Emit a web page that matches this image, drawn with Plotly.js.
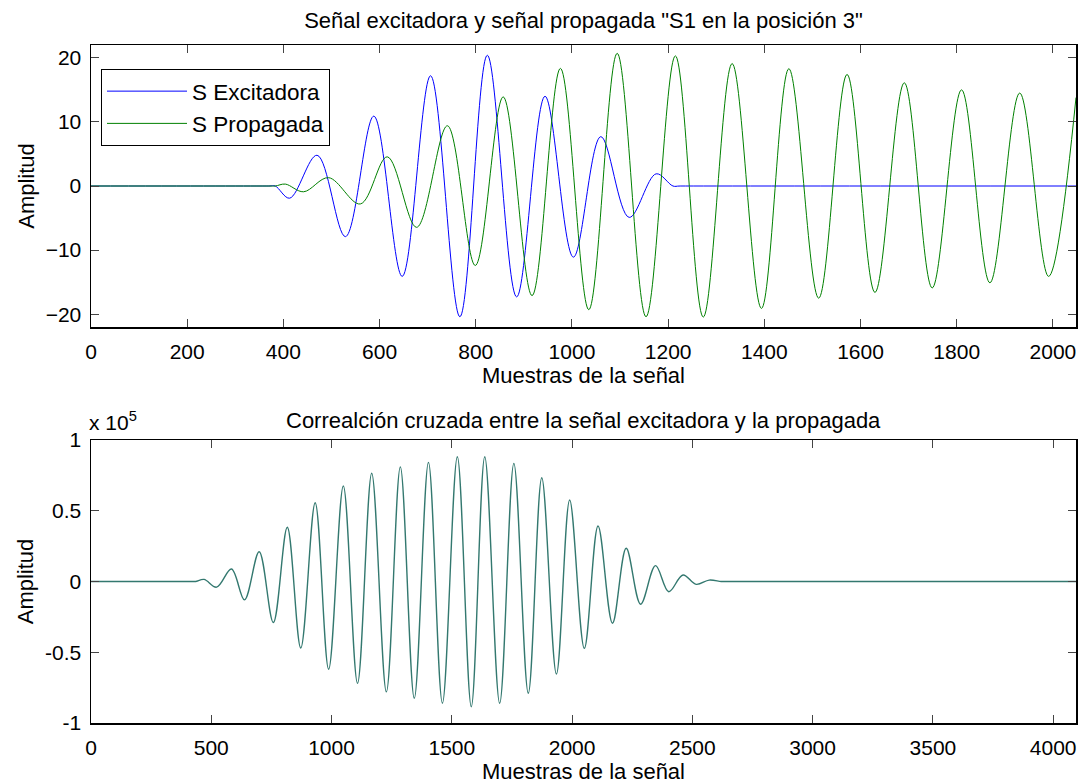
<!DOCTYPE html>
<html>
<head>
<meta charset="utf-8">
<script src="https://cdn.plot.ly/plotly-3.0.1.min.js"></script>
<style>html,body{margin:0;padding:0;background:#fff;}#chart{width:1081px;height:784px;}</style>
</head>
<body>
<div id="chart"></div>
<script>
// ---- Top panel: excitation and propagated signal (samples, amplitude) ----
const excX = [0, 370, 383, 413, 470, 529, 588, 647, 706, 767, 824, 885, 944, 1003, 1060, 1119, 1175, 1210, 1225, 2048];
const excY = [0, 0, 0, -1.9, 4.8, -7.9, 10.9, -14.1, 17.2, -20.4, 20.4, -17.3, 14.0, -11.1, 7.7, -4.9, 1.9, 0, 0, 0];

const propX = [0, 370, 383, 404, 442, 494, 560, 616, 677, 741, 799, 857, 917, 976, 1035, 1094, 1154, 1215, 1273, 1333, 1394, 1451, 1513, 1572, 1630, 1691, 1749, 1810, 1869, 1931, 1991, 2048];
const propY = [0, 0, 0, 0.3, -0.9, 1.3, -2.8, 4.55, -6.45, 9.4, -12.4, 13.9, -17.1, 18.35, -19.3, 20.7, -20.4, 20.3, -20.45, 19.1, -19.1, 18.3, -17.5, 17.4, -16.6, 16.1, -15.9, 15.0, -15.1, 14.5, -14.1, 13.8];

// ---- Bottom panel: cross-correlation (values in units of 1e5) ----
const lagX = [0, 420, 435, 470, 522, 584, 638, 699, 758, 816, 872, 932, 988, 1049, 1108, 1167, 1228, 1286, 1344, 1403, 1461, 1523, 1581, 1637, 1699, 1758, 1818, 1874, 1935, 1990, 2051, 2108, 2168, 2225, 2285, 2347, 2402, 2461, 2516, 2570, 2620, 2640, 4095];
const corrY = [0, 0, 0, 0.015, -0.04, 0.088, -0.13, 0.21, -0.29, 0.383, -0.47, 0.557, -0.62, 0.675, -0.72, 0.765, -0.78, 0.81, -0.825, 0.842, -0.86, 0.882, -0.885, 0.882, -0.86, 0.835, -0.79, 0.733, -0.654, 0.576, -0.472, 0.392, -0.295, 0.235, -0.161, 0.112, -0.072, 0.046, -0.02, 0.01, 0, 0, 0];

// ---- Tick labels ----
const topXTicks = [0, 200, 400, 600, 800, 1000, 1200, 1400, 1600, 1800, 2000];
const topYTicks = [-20, -10, 0, 10, 20];
const botXTicks = [0, 500, 1000, 1500, 2000, 2500, 3000, 3500, 4000];
const botYTicks = [-1, -0.5, 0, 0.5, 1];
const botYText = ['-1', '-0.5', '0', '0.5', '1'];

const FONT = 'Liberation Sans, Arial, Helvetica, sans-serif';
const fsTick = 21, fsLab = 22, fsTitle = 22;

const traces = [
  {x: excX, y: excY, type: 'scatter', mode: 'lines', name: 'S Excitadora',
   line: {color: '#0000ff', width: 1, shape: 'spline', smoothing: 1}, xaxis: 'x', yaxis: 'y'},
  {x: propX, y: propY, type: 'scatter', mode: 'lines', name: 'S Propagada',
   line: {color: '#008000', width: 1, shape: 'spline', smoothing: 1}, xaxis: 'x', yaxis: 'y'},
  {x: lagX, y: corrY, type: 'scatter', mode: 'lines', name: 'Correlación', showlegend: false,
   line: {color: '#33786f', width: 1.4, shape: 'spline', smoothing: 1}, xaxis: 'x2', yaxis: 'y2'}
];

const axCommon = {
  showline: true, linecolor: '#000', linewidth: 1.5, mirror: 'ticks',
  ticks: 'inside', ticklen: 8, tickcolor: '#444', tickwidth: 1,
  showgrid: false, zeroline: false, tickfont: {family: FONT, size: fsTick, color: '#000'},
  fixedrange: true
};

const L = 91/1081, R = 1076/1081;
const layout = {
  width: 1081, height: 784,
  margin: {l: 0, r: 0, t: 0, b: 0},
  paper_bgcolor: '#fff', plot_bgcolor: '#fff',
  font: {family: FONT, size: fsLab, color: '#000'},
  showlegend: true,
  legend: {x: 101/1081, y: 1 - 69/784, xanchor: 'left', yanchor: 'top',
           bgcolor: '#fff', bordercolor: '#000', borderwidth: 1,
           font: {family: FONT, size: 22.5, color: '#000'}, itemwidth: 80, tracegroupgap: 0},
  title: {text: 'Señal excitadora y señal propagada "S1 en la posición 3"',
          font: {family: FONT, size: fsTitle, color: '#000'}, x: (L+R)/2, xanchor: 'center',
          y: 1 - 20/784, yanchor: 'middle', xref: 'paper', yref: 'paper'},
  xaxis: Object.assign({}, axCommon, {domain: [L, R], anchor: 'y', range: [0, 2048],
          tickvals: topXTicks, ticklabelstandoff: 5,
          title: {text: 'Muestras de la señal', font: {family: FONT, size: fsLab}, standoff: 4}}),
  yaxis: Object.assign({}, axCommon, {domain: [1 - 327/784, 1 - 45/784], anchor: 'x', range: [-22, 22],
          tickvals: topYTicks, ticklabelstandoff: 4,
          title: {text: 'Amplitud', font: {family: FONT, size: fsLab}, standoff: 5}}),
  xaxis2: Object.assign({}, axCommon, {domain: [L, R], anchor: 'y2', range: [0, 4095],
          tickvals: botXTicks, ticklabelstandoff: 5,
          title: {text: 'Muestras de la señal', font: {family: FONT, size: fsLab}, standoff: 2}}),
  yaxis2: Object.assign({}, axCommon, {domain: [1 - 723/784, 1 - 440/784], anchor: 'x2', range: [-1, 1],
          tickvals: botYTicks, ticktext: botYText, ticklabelstandoff: 4,
          title: {text: 'Amplitud', font: {family: FONT, size: fsLab}, standoff: 5}}),
  annotations: [
    {text: 'Correalción cruzada entre la señal excitadora y la propagada', xref: 'paper', yref: 'paper',
     x: (L+R)/2, y: 1 - 420/784, xanchor: 'center', yanchor: 'middle', showarrow: false,
     font: {family: FONT, size: fsTitle, color: '#000'}},
    {text: 'x 10<sup>5</sup>', xref: 'paper', yref: 'paper', x: 87/1081, y: 1 - 421/784,
     xanchor: 'left', yanchor: 'middle', showarrow: false, font: {family: FONT, size: fsTick, color: '#000'}}
  ]
};

Plotly.newPlot('chart', traces, layout, {displayModeBar: false, staticPlot: true});
</script>
</body>
</html>
